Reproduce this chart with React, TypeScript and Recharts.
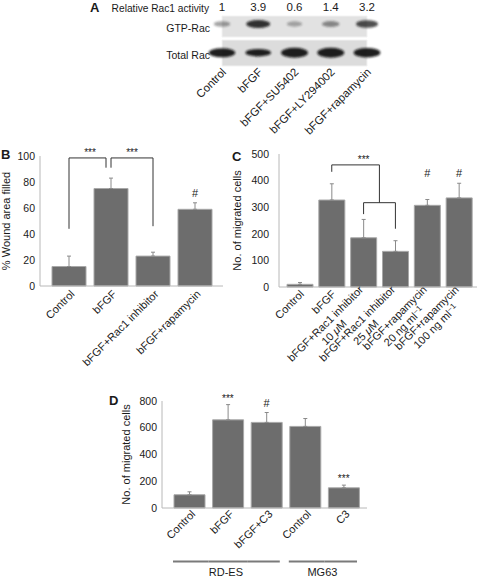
import React from 'react';
import { ComposedChart, Bar, XAxis, YAxis, ErrorBar, ReferenceLine, ReferenceArea, Scatter } from 'recharts';

// ---- panel A: Rac1 pull-down ----
const laneNames = ['Control', 'bFGF', 'bFGF+SU5402', 'bFGF+LY294002', 'bFGF+rapamycin'];
const racActivity = [1, 3.9, 0.6, 1.4, 3.2];
const totalRacLevel = [0.9, 0.75, 1, 1, 0.95];
const blotRows = ['GTP-Rac', 'Total Rac'];

// ---- panel B: wound healing ----
const woundLabels = ['Control', 'bFGF', 'bFGF+Rac1 inhibitor', 'bFGF+rapamycin'];
const woundMean = [15, 75, 23, 59];
const woundSd = [8, 8, 3, 5];
const woundMarks = ['', '', '', '#'];
const woundTicks = [0, 20, 40, 60, 80, 100];

// ---- panel C: migration, Rac1 inhibitor / rapamycin ----
const migLabels = [
  'Control',
  'bFGF',
  'bFGF+Rac1 inhibitor\n10 μM',
  'bFGF+Rac1 inhibitor\n25 μM',
  'bFGF+rapamycin\n20 ng ml^-1',
  'bFGF+rapamycin\n100 ng ml^-1',
];
const migMean = [10, 327, 185, 134, 307, 335];
const migSd = [7, 61, 69, 40, 22, 55];
const migMarks = ['', '', '', '', '#', '#'];
const migTicks = [0, 100, 200, 300, 400, 500];

// ---- panel D: migration, C3 ----
const rhoLabels = ['Control', 'bFGF', 'bFGF+C3', 'Control', 'C3'];
const rhoCells = ['RD-ES', 'RD-ES', 'RD-ES', 'MG63', 'MG63'];
const rhoMean = [99, 659, 640, 610, 151];
const rhoSd = [22, 114, 74, 59, 20];
const rhoMarks = ['', '***', '#', '', '***'];
const rhoTicks = [0, 200, 400, 600, 800];

const FONT = '"Liberation Sans", Arial, Helvetica, sans-serif';
const INK = '#1a1a1a';
const BAR_FILL = '#6d6d6d';
const BAR_EDGE = '#a8a8a8';
const AXIS = '#b8b8b8';
const WHISKER = '#8a8a8a';
const BRACKET = '#333';

// blot layout (y units of panel A)
const GTP_BAND_Y = 42;
const TOTAL_BAND_Y = 13.3;

type Bracket = { from: string; to: string; y1: number; y2: number; dx1?: number; dx2?: number; label?: string };

const woundBrackets: Bracket[] = [
  { from: 'Control', to: 'Control', y1: 44, y2: 98.5 },
  { from: 'Control', to: 'bFGF', y1: 98.5, y2: 98.5, dx2: -5, label: '***' },
  { from: 'bFGF', to: 'bFGF', y1: 98.5, y2: 91, dx1: -5, dx2: -5 },
  { from: 'bFGF', to: 'bFGF', y1: 91, y2: 98.5 },
  { from: 'bFGF', to: 'bFGF+Rac1 inhibitor', y1: 98.5, y2: 98.5, label: '***' },
  { from: 'bFGF+Rac1 inhibitor', to: 'bFGF+Rac1 inhibitor', y1: 98.5, y2: 46 },
];

const C10 = migLabels[2];
const C25 = migLabels[3];
const migBrackets: Bracket[] = [
  { from: 'bFGF', to: 'bFGF', y1: 433, y2: 459 },
  { from: 'bFGF', to: C25, y1: 459, y2: 459, dx2: -16, label: '***' },
  { from: C25, to: C25, y1: 459, y2: 317, dx1: -16, dx2: -16 },
  { from: C10, to: C25, y1: 317, y2: 317 },
  { from: C10, to: C10, y1: 317, y2: 274 },
  { from: C25, to: C25, y1: 317, y2: 219 },
];

const canvasCtx = typeof document !== 'undefined' ? document.createElement('canvas').getContext('2d') : null;
function textWidth(s: string, size: number) {
  if (!canvasCtx) return s.length * size * 0.55;
  canvasCtx.font = `${size}px "Liberation Sans"`;
  return canvasCtx.measureText(s).width;
}
const plain = (s: string) => s.replace('^-1', '-1');

function rich(line: string) {
  return line.split(/(μ|\^-1)/).map((s, i) => {
    if (s === 'μ') return <tspan key={i} fontStyle="italic">μ</tspan>;
    if (s === '^-1') return <tspan key={i} fontSize="0.72em" dy="-0.4em">−1</tspan>;
    return s ? <tspan key={i}>{s}</tspan> : null;
  });
}

function SlantTick(props: any) {
  const { x, y, index, payload, labels, shiftX = 3, shiftY = 6, size = 11, groups, band = 0 } = props;
  const text: string = labels ? labels[index] : String(payload.value);
  const lines = text.split('\n');
  const lh = size * 1.12;
  const w0 = textWidth(plain(lines[0]), size);

  let group = null;
  if (groups) {
    const name = groups[index];
    const first = groups.indexOf(name);
    const last = groups.lastIndexOf(name);
    const gy = y + 53.5;
    const x1 = x - band / 2 + (index === first ? 3 : 0);
    const x2 = x + band / 2 - (index === last ? 6 : 0);
    group = (
      <g>
        <line x1={x1} x2={x2} y1={gy} y2={gy} stroke="#7a7a7a" strokeWidth={2} />
        {index === first && (
          <text x={x + ((last - first) / 2) * band - 2} y={gy + 14.5} textAnchor="middle" fontSize={11} fontFamily={FONT} fill={INK}>
            {name}
          </text>
        )}
      </g>
    );
  }

  return (
    <g>
      <g transform={`translate(${x + shiftX} ${y + shiftY}) rotate(-45)`}>
        {lines.map((ln, i) => {
          const w = textWidth(plain(ln), size);
          return (
            <text
              key={i}
              x={i === 0 ? 0 : -(w0 - w) / 2}
              y={(i - (lines.length - 1) / 2) * lh + size * 0.35}
              textAnchor="end"
              fontSize={size}
              fontFamily={FONT}
              fill={INK}
            >
              {rich(ln)}
            </text>
          );
        })}
      </g>
      {group}
    </g>
  );
}

const MarkShape = (p: any) => {
  const mark = p.payload && p.payload.mark;
  if (!mark || !isFinite(p.cy)) return <g />;
  const hash = mark === '#';
  return (
    <text x={p.cx} y={p.cy - (hash ? 6 : 3)} textAnchor="middle" fontSize={hash ? 11 : 10} fontFamily={FONT} fill={INK}>
      {mark}
    </text>
  );
};

function buildRows(keys: string[], mean: number[], sd: number[], marks: string[], shared = false) {
  const tops = mean.map((m, i) => m + sd[i]);
  const sharedTop = Math.max(...tops.filter((_, i) => marks[i]));
  return keys.map((key, i) => ({
    key,
    mean: mean[i],
    err: [0, sd[i]],
    mark: marks[i],
    markAt: marks[i] ? (shared ? sharedTop : tops[i]) : null,
  }));
}

function BarPanel(props: any) {
  const {
    left, top, width, height, rows, yMax, yTicks, yLabel, axisWidth, yLabelOffset,
    tickGap, xHeight, pad, barSize, marginRight, tickDx, tickDy, brackets = [], labels, groups,
  } = props;
  const plotW = width - axisWidth - marginRight;
  const band = (plotW - pad[0] - pad[1]) / rows.length;
  return (
    <div style={{ position: 'absolute', left, top }}>
      <ComposedChart width={width} height={height} data={rows} margin={{ top: 16, right: marginRight, bottom: 0, left: 0 }}>
        <XAxis
          dataKey="key"
          type="category"
          interval={0}
          height={xHeight}
          padding={{ left: pad[0], right: pad[1] }}
          axisLine={{ stroke: AXIS }}
          tickLine={false}
          tickSize={0}
          tickMargin={0}
          tick={<SlantTick shiftX={tickDx} shiftY={tickDy} labels={labels} groups={groups} band={band} />}
        />
        <YAxis
          type="number"
          domain={[0, yMax]}
          ticks={yTicks}
          width={axisWidth}
          axisLine={{ stroke: AXIS }}
          tickLine={false}
          tickSize={tickGap}
          tickMargin={2}
          tick={{ fontSize: 10.5, fill: INK, fontFamily: FONT }}
          label={{
            value: yLabel,
            angle: -90,
            position: 'insideLeft',
            offset: yLabelOffset,
            style: { textAnchor: 'middle', fontSize: 11, fill: INK, fontFamily: FONT },
          }}
        />
        <Bar dataKey="mean" barSize={barSize} fill={BAR_FILL} stroke={BAR_EDGE} strokeWidth={1} isAnimationActive={false}>
          <ErrorBar dataKey="err" width={2} stroke={WHISKER} strokeWidth={1} />
        </Bar>
        {brackets.map((b: Bracket, i: number) => (
          <ReferenceLine
            key={i}
            segment={[{ x: b.from, y: b.y1 }, { x: b.to, y: b.y2 }]}
            stroke={BRACKET}
            ifOverflow="visible"
            shape={(p: any) => (
              <line x1={p.x1 + (b.dx1 || 0)} y1={p.y1} x2={p.x2 + (b.dx2 || 0)} y2={p.y2} stroke={BRACKET} strokeWidth={1} />
            )}
            label={b.label ? { value: b.label, position: 'top', offset: 2, fontSize: 10, fill: INK, fontFamily: FONT } : undefined}
          />
        ))}
        <Scatter dataKey="markAt" shape={MarkShape} isAnimationActive={false} />
      </ComposedChart>
    </div>
  );
}

const GtpBand = (p: any) => {
  const s = Math.min(1, p.payload.activity / 3.9);
  return (
    <g>
      <defs>
        <filter id="blotBlur" x="-50%" y="-100%" width="200%" height="300%">
          <feGaussianBlur stdDeviation="1.2" />
        </filter>
      </defs>
      <ellipse cx={p.cx} cy={p.cy} rx={7 + 5 * s} ry={2.4 + 1.6 * s} fill="#151515" opacity={0.22 + 0.65 * s} filter="url(#blotBlur)" />
    </g>
  );
};

const TotalBand = (p: any) => {
  const l = p.payload.level;
  return (
    <ellipse cx={p.cx} cy={p.cy} rx={13.5 * (0.8 + 0.2 * l)} ry={5 * l} fill="#111" opacity={0.92} filter="url(#blotBlur)" />
  );
};

function BlotPanel() {
  const rows = laneNames.map((lane, i) => ({
    lane,
    activity: racActivity[i],
    level: totalRacLevel[i],
    gtpRow: GTP_BAND_Y,
    totalRow: TOTAL_BAND_Y,
  }));
  return (
    <div style={{ position: 'absolute', left: 0, top: 0 }}>
      <ComposedChart width={481} height={140} data={rows} margin={{ top: 0, right: 108, bottom: 0, left: 0 }}>
        <XAxis
          xAxisId="top"
          orientation="top"
          dataKey="activity"
          type="category"
          height={16}
          interval={0}
          padding={{ left: 7, right: 6 }}
          axisLine={false}
          tickLine={false}
          tickSize={3}
          tickMargin={2}
          tick={{ fontSize: 11.5, fill: INK, fontFamily: FONT }}
          label={{ value: 'Relative Rac1 activity', position: 'left', offset: 6, fontSize: 10.2, fill: INK, fontFamily: FONT }}
        />
        <XAxis
          dataKey="lane"
          type="category"
          height={74}
          interval={0}
          padding={{ left: 7, right: 6 }}
          axisLine={false}
          tickLine={false}
          tickSize={0}
          tickMargin={0}
          tick={<SlantTick shiftX={2} shiftY={4} size={11.4} />}
        />
        <YAxis
          type="number"
          domain={[0, 50]}
          ticks={[37.3, 11]}
          tickFormatter={(v: number) => (v > 25 ? blotRows[0] : blotRows[1])}
          width={215}
          axisLine={false}
          tickLine={false}
          tickSize={3}
          tickMargin={2}
          tick={{ fontSize: 10.5, fill: INK, fontFamily: FONT }}
        />
        <ReferenceArea y1={29} y2={50} fill="#e2e2e2" fillOpacity={1} stroke="#f2f2f2" ifOverflow="visible" />
        <ReferenceArea y1={0} y2={26} fill="#dcdcdc" fillOpacity={1} stroke="#f2f2f2" ifOverflow="visible" />
        <Scatter dataKey="gtpRow" shape={GtpBand} isAnimationActive={false} />
        <Scatter dataKey="totalRow" shape={TotalBand} isAnimationActive={false} />
      </ComposedChart>
    </div>
  );
}

const letter = (ch: string, left: number, top: number) => (
  <div style={{ position: 'absolute', left, top, fontFamily: FONT, fontWeight: 'bold', fontSize: 13, lineHeight: '13px', color: INK }}>
    {ch}
  </div>
);

export default function App() {
  return (
    <div style={{ position: 'absolute', left: 0, top: 0, width: 481, height: 578, background: '#fff', overflow: 'hidden' }}>
      <BlotPanel />
      <BarPanel
        left={0} top={140} width={230} height={250}
        rows={buildRows(woundLabels, woundMean, woundSd, woundMarks)}
        yMax={100} yTicks={woundTicks} yLabel="% Wound area filled"
        axisWidth={40} yLabelOffset={6} tickGap={3} xHeight={104}
        pad={[8, 7]} barSize={34} marginRight={7} tickDx={3.5} tickDy={6}
        brackets={woundBrackets}
      />
      <BarPanel
        left={230} top={138} width={251} height={250}
        rows={buildRows(migLabels, migMean, migSd, migMarks, true)}
        yMax={500} yTicks={migTicks} yLabel="No. of migrated cells"
        axisWidth={49} yLabelOffset={7} tickGap={8} xHeight={101}
        pad={[5, 2]} barSize={26} marginRight={4} tickDx={2} tickDy={5}
        brackets={migBrackets}
      />
      <BarPanel
        left={110} top={385} width={261} height={193}
        rows={buildRows(rhoLabels.map((l, i) => `${rhoCells[i]} ${l}`), rhoMean, rhoSd, rhoMarks)}
        labels={rhoLabels} groups={rhoCells}
        yMax={800} yTicks={rhoTicks} yLabel="No. of migrated cells"
        axisWidth={52} yLabelOffset={16.5} tickGap={3} xHeight={70}
        pad={[8, 4]} barSize={31} marginRight={4} tickDx={4} tickDy={4}
      />
      {letter('A', 90, 1)}
      {letter('B', 1, 148)}
      {letter('C', 232, 150)}
      {letter('D', 109, 394)}
    </div>
  );
}
